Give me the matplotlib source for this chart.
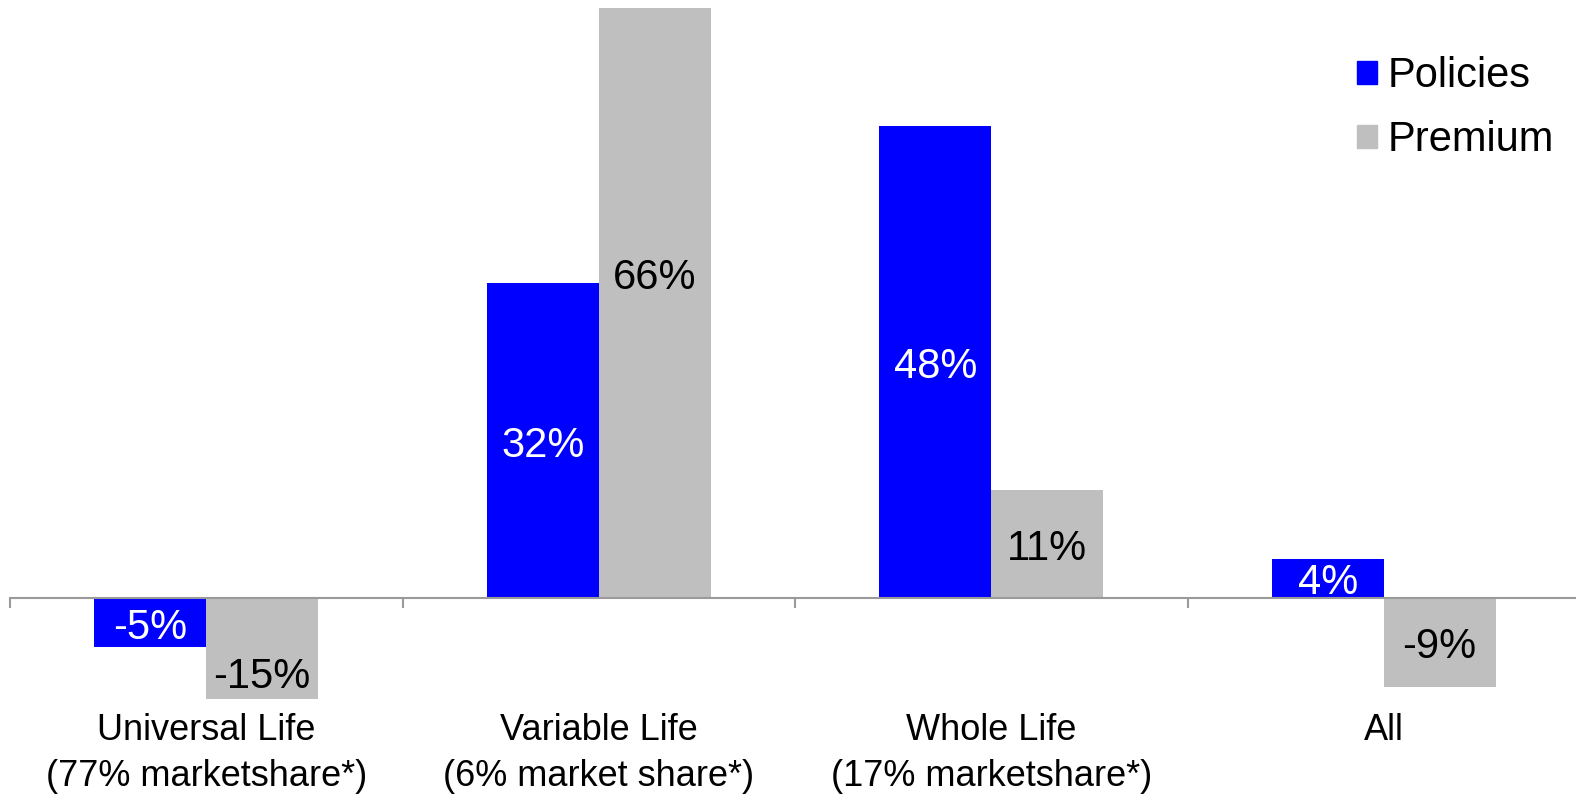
import numpy as np
import matplotlib
matplotlib.use('Agg')
from matplotlib import pyplot as plt
from matplotlib.patches import Patch

plt.rcParams['font.family'] = ['Liberation Sans', 'DejaVu Sans']

# data
categories = ['Universal Life\n(77% marketshare*)', 'Variable Life\n(6% market share*)',
              'Whole Life\n(17% marketshare*)', 'All']
policies = [-5, 32, 48, 4]
premium = [-15, 66, 11, -9]

blue = '#0000FF'
grey = '#BFBFBF'
axcol = '#9A9A9A'

fig = plt.figure(figsize=(15.76, 7.94), dpi=100)
ax = fig.add_axes([10/1576, 95.5/794, 1570/1576, 690.5/794])

x = np.arange(len(categories))
w = 0.285
ax.bar(x - w/2, policies, w, color=blue, label='Policies')
ax.bar(x + w/2, premium, w, color=grey, label='Premium')

# labels sit at half the value (Excel style), bars clipped by the axes
for xi, v in zip(x, policies):
    ax.annotate('%d%%' % v, (xi - w/2, v/2), xytext=(0, -3.5), textcoords='offset points',
                ha='center', va='center', color='white', fontsize=30)
for xi, v in zip(x, premium):
    ax.annotate('%d%%' % v, (xi + w/2, v/2), xytext=(0, -3.5), textcoords='offset points',
                ha='center', va='center', color='black', fontsize=30)

ax.set_xlim(-0.5, 3.5)
ax.set_ylim(-10.2, 60)

for s in ['top', 'right', 'left']:
    ax.spines[s].set_visible(False)
ax.spines['bottom'].set_position(('data', 0))
ax.spines['bottom'].set_color(axcol)
ax.spines['bottom'].set_linewidth(1.5)
ax.set_yticks([])

ax.set_xticks(x)
ax.set_xticklabels(categories, fontsize=26, linespacing=1.4)
ax.set_xticks(np.arange(-0.5, 4.0, 1.0), minor=True)
ax.tick_params(axis='x', which='major', length=0, pad=83)
ax.tick_params(axis='x', which='minor', length=7, width=1.5, color=axcol, direction='out')

handles = [Patch(color=blue), Patch(color=grey)]
ax.legend(handles, ['Policies', 'Premium'], loc='upper left', bbox_to_anchor=(1357/1576, 1 - 56/794),
          bbox_transform=fig.transFigure, frameon=False, fontsize=30, handlelength=0.48,
          handleheight=0.48, handletextpad=0.25, labelspacing=0.58, borderpad=0, borderaxespad=0)

fig.savefig('out.png', dpi=100)
